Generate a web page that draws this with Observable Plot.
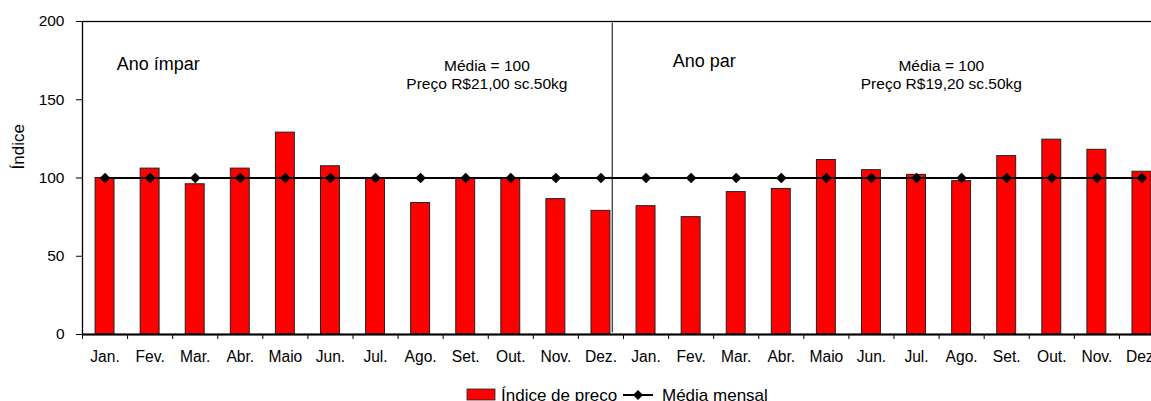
<!DOCTYPE html>
<html>
<head>
<meta charset="utf-8">
<script src="https://cdn.jsdelivr.net/npm/d3@7"></script>
<script src="https://cdn.jsdelivr.net/npm/@observablehq/plot@0.6"></script>
<style>
  html, body { margin: 0; padding: 0; background: #fff; overflow: hidden; }
  #wrap { position: relative; width: 1151px; height: 401px; font-family: "Liberation Sans", Arial, sans-serif; }
  #legend { position: absolute; left: 0; top: 372px; }
</style>
</head>
<body>
<div id="wrap"></div>
<script>
// ---- data ----
const months = ["Jan.","Fev.","Mar.","Abr.","Maio","Jun.","Jul.","Ago.","Set.","Out.","Nov.","Dez."];
const imparValues = [100, 106, 96, 106, 129, 107.5, 100, 84, 100, 100, 86.5, 79];
const parValues   = [82, 75, 91, 93, 111.5, 105, 102, 98, 114, 124.5, 118, 104];
const mediaMensal = [100,100,100,100,100,100,100,100,100,100,100,100,
                     100,100,100,100,100,100,100,100,100,100,100,100];
const yTicks = [0, 50, 100, 150, 200];
const seriesNames = ["Índice de preço", "Média mensal"];
const yearLabels = [
  {label: "Ano ímpar", x: 0.76, y: 173},
  {label: "Ano par", x: 13.09, y: 174.5}
];
const priceNotes = [
  {label: "Média = 100\nPreço R$21,00 sc.50kg", x: 8.97, y: 166.5},
  {label: "Média = 100\nPreço R$19,20 sc.50kg", x: 19.05, y: 166.5}
];

const labels = months.concat(months);
const values = imparValues.concat(parValues);
const data = labels.map((m, i) => ({i, month: m, value: values[i], media: mediaMensal[i]}));

const chart = Plot.plot({
  width: 1151,
  height: 372,
  marginLeft: 82,
  marginRight: -13,
  marginTop: 21,
  marginBottom: 38,
  style: {fontFamily: "Liberation Sans, Arial, sans-serif", fontSize: "15px", color: "#000", background: "#fff"},
  x: {type: "linear", domain: [0, 24], axis: null},
  y: {domain: [0, 200], axis: null},
  marks: [
    Plot.rect(data, {x1: d => d.i + 0.29, x2: d => d.i + 0.71, y1: 0, y2: "value", fill: "#ff0000", stroke: "#222", strokeWidth: 1}),
    Plot.frame({stroke: "#000", strokeWidth: 1.3}),
    Plot.ruleY([0], {stroke: "#000", strokeWidth: 2}),
    Plot.axisY({ticks: yTicks, tickSize: 6, tickPadding: 12, fontSize: 15.5, stroke: "#000", label: null}),
    Plot.axisX({ticks: d3.range(25), tickSize: 5, tickFormat: () => "", stroke: "#000", label: null}),
    Plot.axisX({ticks: d3.range(24).map(i => i + 0.5), tickSize: 0, tickPadding: 16, fontSize: 15.6,
                tickFormat: d => labels[Math.floor(d)], label: null}),
    Plot.ruleX([11.75], {y1: 1, y2: 199, stroke: "#000", strokeWidth: 1}),
    Plot.line(data, {x: d => d.i + 0.5, y: "media", stroke: "#000", strokeWidth: 2.2}),
    Plot.dot(data, {x: d => d.i + 0.5, y: "media", symbol: "diamond2", r: 4.8, fill: "#000", stroke: "none"}),
    Plot.text(yearLabels, {x: "x", y: "y", text: "label", textAnchor: "start", fontSize: 18, lineAnchor: "middle", fill: "#000"}),
    Plot.text(priceNotes, {x: "x", y: "y", text: "label", textAnchor: "middle", fontSize: 15.5, lineHeight: 1.22, lineAnchor: "middle", fill: "#000"}),
    Plot.text(["Índice"], {frameAnchor: "left", y: 120, dx: -64, rotate: -90, textAnchor: "middle", fontSize: 17, fill: "#000"})
  ]
});

document.getElementById("wrap").appendChild(chart);

// legend below the chart
const legend = d3.create("svg").attr("id", "legend").attr("width", 1151).attr("height", 29)
  .style("font-family", "Liberation Sans, Arial, sans-serif");
legend.append("rect").attr("x", 467).attr("y", 17).attr("width", 28).attr("height", 11)
  .attr("fill", "#ff0000").attr("stroke", "#222").attr("stroke-width", 0.8);
legend.append("text").attr("x", 501).attr("y", 28.5).attr("font-size", 17).text(seriesNames[0]);
legend.append("line").attr("x1", 623).attr("x2", 653).attr("y1", 23).attr("y2", 23)
  .attr("stroke", "#000").attr("stroke-width", 2);
legend.append("path").attr("d", "M638,18L643,23L638,28L633,23Z").attr("fill", "#000");
legend.append("text").attr("x", 662).attr("y", 28.5).attr("font-size", 17).text(seriesNames[1]);
document.getElementById("wrap").appendChild(legend.node());
</script>
</body>
</html>
